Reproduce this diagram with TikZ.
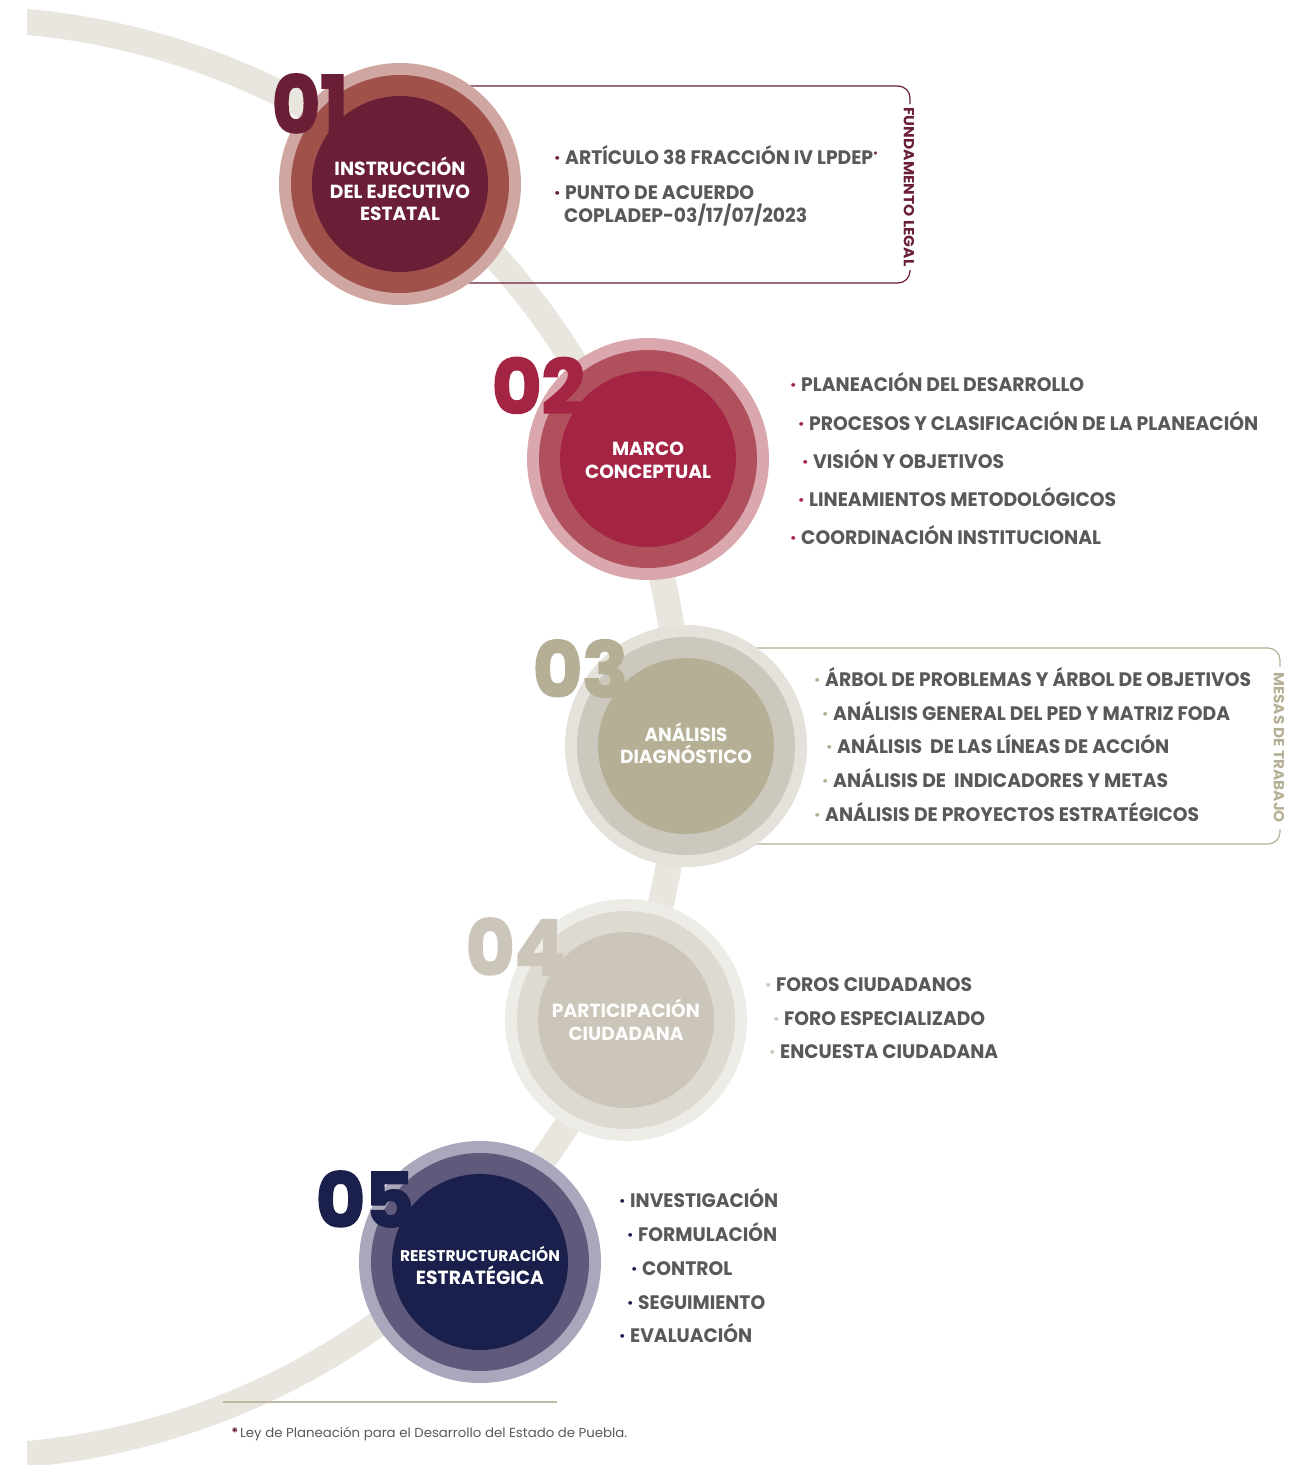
\documentclass[tikz,border=0pt]{standalone}
\usepackage{fontspec}
\setmainfont{Poppins}
\newfontfamily\numfont{Poppins}[BoldFeatures={FakeBold=2.5}]
\usepackage{graphicx}
\definecolor{cAdark}{HTML}{6A1F36}
\definecolor{cAmid}{HTML}{A0524A}
\definecolor{cAlight}{HTML}{CFA6A1}
\definecolor{cBdark}{HTML}{A32443}
\definecolor{cBmid}{HTML}{B0505D}
\definecolor{cBlight}{HTML}{D9A7AD}
\definecolor{cCdark}{HTML}{B5B095}
\definecolor{cCmid}{HTML}{CDC8BD}
\definecolor{cClight}{HTML}{E5E2DB}
\definecolor{cDdark}{HTML}{CBC5BA}
\definecolor{cDmid}{HTML}{DEDAD2}
\definecolor{cDlight}{HTML}{EEECE7}
\definecolor{cEdark}{HTML}{1A204B}
\definecolor{cEmid}{HTML}{5F5A7C}
\definecolor{cElight}{HTML}{A9A7BB}
\definecolor{txtgray}{HTML}{58595B}
\definecolor{arcgray}{HTML}{E9E6DF}
\definecolor{rulecol}{HTML}{BDB9A2}
\newcommand{\fw}[2]{\resizebox{#1}{\height}{#2}}
\newcommand{\fwh}[3]{\resizebox{#1}{#2}{#3}}
\newcommand{\bul}[1]{\llap{\textcolor{#1}{·}\hspace{5pt}}}
\tikzset{
  ring/.style={circle, inner sep=0pt, minimum size=#1},
  ctext/.style={anchor=base, inner sep=0pt, text=white, font=\fontsize{19}{22}\selectfont\bfseries},
  item/.style={anchor=base west, inner sep=0pt, text=txtgray, font=\fontsize{19.5}{22}\selectfont\bfseries},
  numtxt/.style={inner sep=0pt, font=\numfont\bfseries\fontsize{80}{80}\selectfont},
  vlabel/.style={inner sep=0pt, rotate=-90, font=\fontsize{14.5}{16}\selectfont\bfseries},
}
\begin{document}
\begin{tikzpicture}[x=1pt,y=-1pt]
\useasboundingbox (0,0) rectangle (1297,1465);
\fill[white] (0,0) rectangle (1297,1465);
% background arc
\begin{scope}
\clip (27,0) rectangle (1297,1465);
\draw[arcgray, line width=26pt] (-39,738) circle [radius=719];
\end{scope}
% brackets
\coordinate (b1s) at (400,86);
\coordinate (b1e) at (400,283);
\draw[cAdark, line width=1.2pt, rounded corners=12pt] (b1s) -- (910,86) -- (910,104);
\draw[cAdark, line width=1.2pt, rounded corners=12pt] (910,270) -- (910,283) -- (b1e);
\coordinate (b3s) at (686,648);
\coordinate (b3e) at (686,844);
\draw[cCdark, line width=1.2pt, rounded corners=12pt] (b3s) -- (1280,648) -- (1280,667);
\draw[cCdark, line width=1.2pt, rounded corners=12pt] (1280,829) -- (1280,844) -- (b3e);
\node[vlabel, text=cAdark] (v1) at (909,187) {\fw{159pt}{FUNDAMENTO LEGAL}};
\node[vlabel, text=cCdark] (v3) at (1279,747.5) {\fw{151pt}{MESAS DE TRABAJO}};
% circles
\node[ring=242pt, fill=cAlight] (c1) at (400,184) {};
\node[ring=218pt, fill=cAmid] at (c1) {};
\node[ring=176pt, fill=cAdark] at (c1) {};
\node[ring=242pt, fill=cBlight] (c2) at (648,459) {};
\node[ring=218pt, fill=cBmid] at (c2) {};
\node[ring=176pt, fill=cBdark] at (c2) {};
\node[ring=242pt, fill=cClight] (c3) at (686,746) {};
\node[ring=218pt, fill=cCmid] at (c3) {};
\node[ring=176pt, fill=cCdark] at (c3) {};
\node[ring=242pt, fill=cDlight] (c4) at (626,1020) {};
\node[ring=218pt, fill=cDmid] at (c4) {};
\node[ring=176pt, fill=cDdark] at (c4) {};
\node[ring=242pt, fill=cElight] (c5) at (480,1262) {};
\node[ring=218pt, fill=cEmid] at (c5) {};
\node[ring=176pt, fill=cEdark] at (c5) {};
% numbers
\node[numtxt, text=cAdark] (n1) at (310,103.5) {\fwh{76pt}{59pt}{01}};
\node[numtxt, text=cBdark] (n2) at (538.5,385.5) {\fwh{93pt}{56pt}{02}};
\node[numtxt, text=cCdark] (n3) at (580.5,668.5) {\fwh{95pt}{57pt}{03}};
\node[numtxt, text=cDdark] (n4) at (515.5,946.5) {\fwh{99pt}{57pt}{04}};
\node[numtxt, text=cEdark] (n5) at (365,1199) {\fwh{98pt}{56pt}{05}};
% circle texts
\node[ctext] (t11) at (400,175) {\fw{131pt}{INSTRUCCIÓN}};
\node[ctext] (t12) at (400,198) {\fw{140pt}{DEL EJECUTIVO}};
\node[ctext] (t13) at (400,220) {\fw{80pt}{ESTATAL}};
\node[ctext] (t21) at (648,455) {\fw{72pt}{MARCO}};
\node[ctext] (t22) at (648,478) {\fw{126pt}{CONCEPTUAL}};
\node[ctext, text=white!96!cCdark] (t31) at (686,741) {\fw{83pt}{ANÁLISIS}};
\node[ctext, text=white!96!cCdark] (t32) at (686,763) {\fw{132pt}{DIAGNÓSTICO}};
\node[ctext, text=white!96!cDdark] (t41) at (626,1017) {\fw{148pt}{PARTICIPACIÓN}};
\node[ctext, text=white!96!cDdark] (t42) at (626,1040) {\fw{115pt}{CIUDADANA}};
\node[ctext, font=\fontsize{15.5}{18}\selectfont\bfseries] (t51) at (480,1261) {\fw{160pt}{REESTRUCTURACIÓN}};
\node[ctext] (t52) at (480,1284) {\fw{128pt}{ESTRATÉGICA}};
% section 1 items
\node[item] (i11) at (565,164) {\bul{cAdark}\fw{308pt}{ARTÍCULO 38 FRACCIÓN IV LPDEP}\textcolor{cAdark}{\raisebox{6pt}{\fontsize{9}{9}\selectfont *}}};
\node[item] (i12) at (565,199) {\bul{cAdark}\fw{189pt}{PUNTO DE ACUERDO}};
\node[item] (i13) at (564,222) {\fw{243pt}{COPLADEP-03/17/07/2023}};
% section 2
\node[item] (i21) at (801,391) {\bul{cBdark}\fw{283pt}{PLANEACIÓN DEL DESARROLLO}};
\node[item] (i22) at (809,430) {\bul{cBdark}\fw{449pt}{PROCESOS Y CLASIFICACIÓN DE LA PLANEACIÓN}};
\node[item] (i23) at (813,468) {\bul{cBdark}\fw{191pt}{VISIÓN Y OBJETIVOS}};
\node[item] (i24) at (809,506) {\bul{cBdark}\fw{307pt}{LINEAMIENTOS METODOLÓGICOS}};
\node[item] (i25) at (801,544) {\bul{cBdark}\fw{300pt}{COORDINACIÓN INSTITUCIONAL}};
% section 3
\node[item] (i31) at (825,686) {\bul{cCdark}\fw{426pt}{ÁRBOL DE PROBLEMAS Y ÁRBOL DE OBJETIVOS}};
\node[item] (i32) at (833,720) {\bul{cCdark}\fw{397pt}{ANÁLISIS GENERAL DEL PED Y MATRIZ FODA}};
\node[item] (i33) at (837,753) {\bul{cCdark}\fw{332pt}{ANÁLISIS\ \ DE LAS LÍNEAS DE ACCIÓN}};
\node[item] (i34) at (833,787) {\bul{cCdark}\fw{335pt}{ANÁLISIS DE\ \ INDICADORES Y METAS}};
\node[item] (i35) at (825,821) {\bul{cCdark}\fw{374pt}{ANÁLISIS DE PROYECTOS ESTRATÉGICOS}};
% section 4
\node[item] (i41) at (776,991) {\bul{cDdark}\fw{196pt}{FOROS CIUDADANOS}};
\node[item] (i42) at (784,1025) {\bul{cDdark}\fw{201pt}{FORO ESPECIALIZADO}};
\node[item] (i43) at (780,1058) {\bul{cDdark}\fw{218pt}{ENCUESTA CIUDADANA}};
% section 5
\node[item] (i51) at (630,1207) {\bul{cEdark}\fw{148pt}{INVESTIGACIÓN}};
\node[item] (i52) at (638,1241) {\bul{cEdark}\fw{139pt}{FORMULACIÓN}};
\node[item] (i53) at (642,1275) {\bul{cEdark}\fw{90pt}{CONTROL}};
\node[item] (i54) at (638,1309) {\bul{cEdark}\fw{127pt}{SEGUIMIENTO}};
\node[item] (i55) at (630,1342) {\bul{cEdark}\fw{122pt}{EVALUACIÓN}};
% footnote
\coordinate (r1) at (223,1402);
\coordinate (r2) at (557,1402);
\draw[rulecol, line width=2pt] (r1) -- (r2);
\node[anchor=base west, inner sep=0pt, text=txtgray, font=\fontsize{13}{15}\selectfont] (fn) at (240,1437) {\llap{\textcolor{cAdark}{\bfseries *}\hspace{2pt}}\fw{387pt}{Ley de Planeación para el Desarrollo del Estado de Puebla.}};
\end{tikzpicture}
\end{document}
